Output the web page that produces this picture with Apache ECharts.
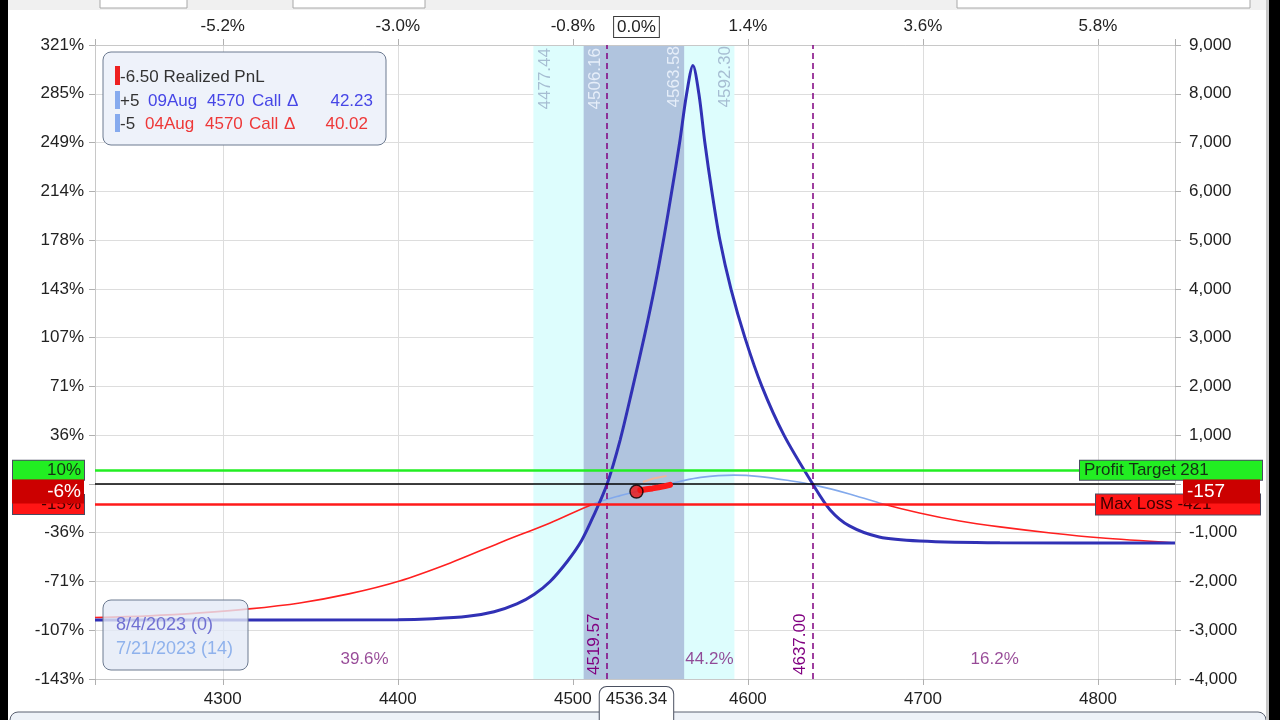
<!DOCTYPE html>
<html><head><meta charset="utf-8">
<script src="https://cdn.jsdelivr.net/npm/echarts@6/dist/echarts.min.js"></script>
<style>html,body{margin:0;padding:0;background:#fff;}#c{width:1280px;height:720px;}</style>
</head><body><div id="c"></div>
<script>
// ---------- data ----------
const xMin = 4227, xMax = 4844;
const yMin = -4000, yMax = 9000, yStep = 1000;
const xTickValues = [4300, 4400, 4500, 4600, 4700, 4800];
const topTickLabels = ['-5.2%', '-3.0%', '-0.8%', '1.4%', '3.6%', '5.8%'];
const yTickValues = [-4000, -3000, -2000, -1000, 0, 1000, 2000, 3000, 4000, 5000, 6000, 7000, 8000, 9000];
const pctTickLabels = ['-143%', '-107%', '-71%', '-36%', '0%', '36%', '71%', '107%', '143%', '178%', '214%', '249%', '285%', '321%'];

const currentPrice = 4536.34;
const currentPnL = -157;
const currentPctLabel = '-6%';
const currentPriceLabel = '4536.34';
const currentPctTop = '0.0%';
const profitTarget = 281;
const profitPct = '10%';
const maxLoss = -421;
const maxLossPct = '-15%';

const outerBand = [4477.44, 4592.30];
const innerBand = [4506.16, 4563.58];
const breakevens = [4519.57, 4637.00];
const probLabels = ['39.6%', '44.2%', '16.2%'];
const probX = [4381, 4578, 4741];
const probY = -3590;

// expiration (8/4/2023) P&L
const expPrice = [4227, 4400, 4420, 4440, 4455, 4468, 4478, 4487, 4497, 4505, 4512, 4519.57, 4527, 4534, 4541, 4547, 4552, 4556.5, 4561, 4565, 4568.6, 4572, 4575.4, 4579.4, 4584, 4590.3, 4598.3, 4608, 4620.6, 4637, 4647, 4658, 4675, 4698, 4744, 4844];
const expPnL   = [-2790, -2785, -2765, -2715, -2620, -2460, -2260, -2000, -1580, -1160, -640, 0, 900, 1950, 3050, 4080, 5050, 6000, 7000, 8000, 8580, 8000, 7000, 6000, 5000, 4000, 3000, 2000, 1000, 0, -533, -861, -1087, -1169, -1205, -1212];

// T+0 (7/21/2023) P&L
const t0Price = [4227, 4258, 4287, 4315, 4344, 4372, 4401, 4430, 4458, 4487, 4511, 4527, 4536.34, 4550, 4561, 4573, 4592, 4607, 4624, 4637, 4658, 4675, 4698, 4721, 4744, 4773, 4801, 4844];
const t0PnL   = [-2740, -2705, -2645, -2563, -2440, -2255, -1990, -1620, -1210, -800, -420, -240, -157, -45, 50, 135, 180, 150, 65, -15, -205, -390, -595, -760, -880, -1005, -1105, -1210];

// realized trail
const trailPrice = [4538.5, 4542, 4545.5, 4549, 4552.5, 4555.5];
const trailPnL   = [-128, -110, -92, -70, -45, -18];
const ghostPrice = [4540, 4546, 4553.5];
const ghostPnL   = [40, 110, 165];

const FONT = 'Arial, "Liberation Sans", sans-serif';
const zip = (a, b) => a.map((v, i) => [v, b[i]]);
const HIDDEN = { color: 'rgba(0,0,0,0)', width: 0 };

const chart = echarts.init(document.getElementById('c'));

const axisLineStyle = { color: '#c8c8c8', width: 1 };
const tickStyle = { show: true, length: 6, lineStyle: { color: '#b0b0b0' } };

const option = {
  animation: false,
  backgroundColor: '#ffffff',
  textStyle: { fontFamily: FONT },
  grid: { left: 95, right: 105, top: 45, bottom: 41 },
  xAxis: [
    {
      type: 'value', position: 'bottom', min: xMin, max: xMax, minInterval: 100, maxInterval: 100, z: 1,
      axisLine: { show: true, onZero: false, lineStyle: axisLineStyle },
      axisTick: tickStyle,
      splitLine: { show: true, lineStyle: { color: '#dddddd', width: 1 } },
      axisLabel: { fontSize: 17, color: '#222', margin: 12, fontFamily: FONT,
        formatter: v => { const i = xTickValues.indexOf(v); return i >= 0 ? String(v) : ''; } }
    },
    {
      type: 'value', position: 'top', min: xMin, max: xMax, minInterval: 100, maxInterval: 100, z: 1,
      axisLine: { show: true, onZero: false, lineStyle: axisLineStyle },
      axisTick: tickStyle,
      splitLine: { show: false },
      axisLabel: { fontSize: 17, color: '#222', margin: 10, fontFamily: FONT,
        formatter: v => { const i = xTickValues.indexOf(v); return i >= 0 ? topTickLabels[i] : ''; } }
    }
  ],
  yAxis: [
    {
      type: 'value', position: 'left', min: yMin, max: yMax, interval: yStep, z: 1,
      axisLine: { show: true, onZero: false, lineStyle: axisLineStyle },
      axisTick: tickStyle,
      splitLine: { show: true, lineStyle: { color: '#dddddd', width: 1 } },
      axisLabel: { fontSize: 17, color: '#222', margin: 11, fontFamily: FONT,
        formatter: v => { const i = yTickValues.indexOf(v); return i >= 0 ? pctTickLabels[i] : ''; } }
    },
    {
      type: 'value', position: 'right', min: yMin, max: yMax, interval: yStep, z: 1,
      axisLine: { show: true, onZero: false, lineStyle: axisLineStyle },
      axisTick: tickStyle,
      splitLine: { show: false },
      axisLabel: { fontSize: 17, color: '#222', margin: 14, fontFamily: FONT,
        formatter: v => v.toLocaleString('en-US') }
    }
  ],
  visualMap: [{
    type: 'piecewise', show: false, dimension: 1, seriesIndex: 2,
    pieces: [
      { gte: yMin - 2000, lt: maxLoss, color: '#ff2020' },
      { gte: maxLoss, lte: yMax + 2000, color: '#82a9ec' }
    ],
    outOfRange: { color: '#82a9ec' }
  }],
  series: [
    // 0: bands
    {
      type: 'line', z: 0, silent: true, data: [[xMin, yMin]], symbol: 'none', lineStyle: { width: 0 },
      markArea: {
        silent: true,
        data: [
          [{ xAxis: outerBand[0], itemStyle: { color: '#ddfdfd' } }, { xAxis: outerBand[1] }],
          [{ xAxis: innerBand[0], itemStyle: { color: '#b0c4de' } }, { xAxis: innerBand[1] }]
        ]
      }
    },
    // 1: vertical marklines (breakevens + band labels + current price boxes)
    {
      type: 'line', z: 2, silent: true, data: [[xMin, yMin]], symbol: 'none', lineStyle: { width: 0 },
      markLine: {
        silent: true, symbol: ['none', 'none'], animation: false,
        data: [
          { xAxis: breakevens[0], lineStyle: { color: '#800080', type: [6, 4], width: 1.5 },
            label: { show: true, position: 'insideStartTop', formatter: breakevens[0].toFixed(2), color: '#800080', fontSize: 17, fontFamily: FONT, distance: 4 } },
          { xAxis: breakevens[1], lineStyle: { color: '#800080', type: [6, 4], width: 1.5 },
            label: { show: true, position: 'insideStartTop', formatter: breakevens[1].toFixed(2), color: '#800080', fontSize: 17, fontFamily: FONT, distance: 4 } },
          { xAxis: outerBand[0], lineStyle: HIDDEN,
            label: { show: true, opacity: 1, position: 'insideEndBottom', formatter: outerBand[0].toFixed(2), color: '#a6bdd2', fontSize: 17, fontFamily: FONT, distance: 3 } },
          { xAxis: innerBand[0], lineStyle: HIDDEN,
            label: { show: true, opacity: 1, position: 'insideEndBottom', formatter: innerBand[0].toFixed(2), color: '#e6eef9', fontSize: 17, fontFamily: FONT, distance: 3 } },
          { xAxis: innerBand[1], lineStyle: HIDDEN,
            label: { show: true, opacity: 1, position: 'insideEndTop', formatter: innerBand[1].toFixed(2), color: '#e6eef9', fontSize: 17, fontFamily: FONT, distance: 1 } },
          { xAxis: outerBand[1], lineStyle: HIDDEN,
            label: { show: true, opacity: 1, position: 'insideEndTop', formatter: outerBand[1].toFixed(2), color: '#a6bdd2', fontSize: 17, fontFamily: FONT, distance: 1 } },
          { xAxis: currentPrice, lineStyle: HIDDEN,
            label: { show: true, opacity: 1, position: 'end', formatter: currentPctTop, distance: 8, color: '#222', fontSize: 17, fontFamily: FONT,
              backgroundColor: '#ffffff', borderColor: '#3c3c3c', borderWidth: 1, padding: [2, 3, 1, 3] } },
          { xAxis: currentPrice, lineStyle: HIDDEN,
            label: { show: true, opacity: 1, position: 'start', formatter: currentPriceLabel, distance: 8, color: '#222', fontSize: 17, fontFamily: FONT,
              backgroundColor: '#ffffff', borderColor: '#4a5060', borderWidth: 1, borderRadius: [7, 7, 0, 0], padding: [4, 6, 20, 6] } }
        ]
      }
    },
    // 2: T+0 curve
    {
      name: '7/21/2023 (14)', type: 'line', z: 3, silent: true, symbol: 'none', smooth: 0.3,
      data: zip(t0Price, t0PnL), lineStyle: { width: 1.6 }
    },
    // 3: expiration curve
    {
      name: '8/4/2023 (0)', type: 'line', z: 4, silent: true, symbol: 'none', smooth: 0.3,
      data: zip(expPrice, expPnL), lineStyle: { width: 3, color: '#3131b5' }, itemStyle: { color: '#3131b5' }
    },
    // 4: horizontal marklines
    {
      type: 'line', z: 5, silent: true, data: [[xMin, yMin]], symbol: 'none', lineStyle: { width: 0 },
      markLine: {
        silent: true, symbol: ['none', 'none'], animation: false,
        data: [
          { yAxis: 0, lineStyle: { color: '#000000', width: 1.5, type: 'solid' }, label: { show: false } },
          { yAxis: profitTarget, lineStyle: { color: '#22ee22', width: 2.5, type: 'solid' },
            label: { show: true, position: 'start', formatter: profitPct, distance: 5, offset: [-6, 0], align: 'right',
              backgroundColor: '#22ee22', borderColor: '#4a4a60', borderWidth: 1, color: '#143214', fontSize: 17, fontFamily: FONT,
              width: 64, padding: [1, 3, 0, 4], lineHeight: 18 } },
          { yAxis: maxLoss, lineStyle: { color: '#ff1a1a', width: 2.5, type: 'solid' },
            label: { show: true, position: 'start', formatter: maxLossPct, distance: 5, offset: [-6, 0], align: 'right',
              backgroundColor: '#ff1515', borderColor: '#4a4a60', borderWidth: 1, color: '#3a0000', fontSize: 17, fontFamily: FONT,
              width: 64, padding: [1, 3, 0, 4], lineHeight: 18 } },
          { yAxis: profitTarget, lineStyle: HIDDEN,
            label: { show: true, opacity: 1, position: 'end', formatter: 'Profit Target ' + profitTarget, distance: 5, offset: [-100, 0], align: 'left',
              backgroundColor: '#22ee22', borderColor: '#4a4a60', borderWidth: 1, color: '#143214', fontSize: 17, fontFamily: FONT,
              width: 174, padding: [1, 4, 0, 4], lineHeight: 18 } },
          { yAxis: maxLoss, lineStyle: HIDDEN,
            label: { show: true, opacity: 1, position: 'end', formatter: 'Max Loss ' + maxLoss, distance: 5, offset: [-84, 0], align: 'left',
              backgroundColor: '#ff1515', borderColor: '#4a4a60', borderWidth: 1, color: '#3a0000', fontSize: 17, fontFamily: FONT,
              width: 156, padding: [1, 4, 0, 4], lineHeight: 19 } },
          { yAxis: currentPnL, lineStyle: HIDDEN,
            label: { show: true, opacity: 1, position: 'start', formatter: currentPctLabel, distance: 5, offset: [-6, 0], align: 'right',
              backgroundColor: '#cc0000', color: '#ffffff', fontSize: 19, fontFamily: FONT,
              width: 66, padding: [2, 3, 1, 3], lineHeight: 21 } },
          { yAxis: currentPnL, lineStyle: HIDDEN,
            label: { show: true, opacity: 1, position: 'end', formatter: String(currentPnL), distance: 5, offset: [3, 0], align: 'left',
              backgroundColor: '#cc0000', color: '#ffffff', fontSize: 19, fontFamily: FONT,
              width: 69, padding: [2, 4, 1, 4], lineHeight: 21 } }
        ]
      }
    },
    // 5: ghost trail
    {
      type: 'line', z: 6, silent: true, symbol: 'none', data: zip(ghostPrice, ghostPnL),
      lineStyle: { width: 2, color: '#ffb48a', opacity: 0.8 }
    },
    // 6: realized trail
    {
      type: 'line', z: 7, silent: true, symbol: 'none', data: zip(trailPrice, trailPnL),
      lineStyle: { width: 6, color: '#ff1a1a', cap: 'round' }
    },
    // 7: current position dot
    {
      type: 'scatter', z: 8, silent: true, symbolSize: 13, data: [[currentPrice, currentPnL]],
      itemStyle: { color: '#ee1111', borderColor: '#000000', borderWidth: 1.5 }
    },
    // 8: probability labels
    {
      type: 'scatter', z: 8, silent: true, symbolSize: 0,
      data: probX.map((x, i) => [x, probY, probLabels[i]]),
      label: { show: true, position: 'inside', formatter: p => p.data[2], color: '#7d1d7d', fontSize: 17, fontFamily: FONT }
    }
  ],
  graphic: [
    { type: 'rect', z: 20, shape: { x: 0, y: 0, width: 1280, height: 10 }, style: { fill: '#f0f0f0' } },
    { type: 'rect', z: 21, shape: { x: 100, y: -2, width: 87, height: 10 }, style: { fill: '#ffffff', stroke: '#a8a8a8' } },
    { type: 'rect', z: 21, shape: { x: 293, y: -2, width: 132, height: 10 }, style: { fill: '#ffffff', stroke: '#a8a8a8' } },
    { type: 'rect', z: 21, shape: { x: 957, y: -2, width: 293, height: 10 }, style: { fill: '#ffffff', stroke: '#a8a8a8' } },
    { type: 'rect', z: 20, shape: { x: 0, y: 0, width: 8, height: 720 }, style: { fill: '#000000' } },
    { type: 'rect', z: 20, shape: { x: 1266, y: 0, width: 3, height: 720 }, style: { fill: '#c8c8c8' } },
    { type: 'rect', z: 20, shape: { x: 1269, y: 0, width: 11, height: 720 }, style: { fill: '#000000' } },
    { type: 'rect', z: 1, shape: { x: 10, y: 712, width: 1256, height: 20, r: [8, 8, 0, 0] }, style: { fill: '#eef2f8', stroke: '#5a6070', lineWidth: 1 } },
    { type: 'rect', z: 15, shape: { x: 103, y: 52, width: 283, height: 93, r: 8 }, style: { fill: '#eef2fa', stroke: '#6c7a90', lineWidth: 1 } },
    { type: 'rect', z: 16, shape: { x: 115, y: 66, width: 5, height: 19 }, style: { fill: '#ee2020' } },
    { type: 'rect', z: 16, shape: { x: 115, y: 91, width: 5, height: 18 }, style: { fill: '#86aaee' } },
    { type: 'rect', z: 16, shape: { x: 115, y: 114, width: 5, height: 18 }, style: { fill: '#86aaee' } },
    { type: 'text', z: 16, style: { x: 120, y: 77, text: '-6.50 Realized PnL', fill: '#333', font: '17px ' + FONT, verticalAlign: 'middle' } },
    { type: 'text', z: 16, style: { x: 120, y: 101, text: '+5', fill: '#333', font: '17px ' + FONT, verticalAlign: 'middle' } },
    { type: 'text', z: 16, style: { x: 148, y: 101, text: '09Aug', fill: '#4646e6', font: '17px ' + FONT, verticalAlign: 'middle' } },
    { type: 'text', z: 16, style: { x: 207, y: 101, text: '4570', fill: '#4646e6', font: '17px ' + FONT, verticalAlign: 'middle' } },
    { type: 'text', z: 16, style: { x: 252, y: 101, text: 'Call', fill: '#4646e6', font: '17px ' + FONT, verticalAlign: 'middle' } },
    { type: 'text', z: 16, style: { x: 287, y: 101, text: 'Δ', fill: '#4646e6', font: '17px ' + FONT, verticalAlign: 'middle' } },
    { type: 'text', z: 16, style: { x: 373, y: 101, text: '42.23', fill: '#4646e6', font: '17px ' + FONT, verticalAlign: 'middle', align: 'right' } },
    { type: 'text', z: 16, style: { x: 120, y: 124, text: '-5', fill: '#333', font: '17px ' + FONT, verticalAlign: 'middle' } },
    { type: 'text', z: 16, style: { x: 145, y: 124, text: '04Aug', fill: '#ee3838', font: '17px ' + FONT, verticalAlign: 'middle' } },
    { type: 'text', z: 16, style: { x: 205, y: 124, text: '4570', fill: '#ee3838', font: '17px ' + FONT, verticalAlign: 'middle' } },
    { type: 'text', z: 16, style: { x: 249, y: 124, text: 'Call', fill: '#ee3838', font: '17px ' + FONT, verticalAlign: 'middle' } },
    { type: 'text', z: 16, style: { x: 284, y: 124, text: 'Δ', fill: '#ee3838', font: '17px ' + FONT, verticalAlign: 'middle' } },
    { type: 'text', z: 16, style: { x: 368, y: 124, text: '40.02', fill: '#ee3838', font: '17px ' + FONT, verticalAlign: 'middle', align: 'right' } },
    { type: 'rect', z: 15, shape: { x: 103, y: 600, width: 145, height: 70, r: 8 }, style: { fill: 'rgba(228,234,246,0.8)', stroke: '#6c7a90', lineWidth: 1 } },
    { type: 'text', z: 16, style: { x: 116, y: 625, text: '8/4/2023 (0)', fill: '#7070d2', font: '18px ' + FONT, verticalAlign: 'middle' } },
    { type: 'text', z: 16, style: { x: 116, y: 649, text: '7/21/2023 (14)', fill: '#8fb2ec', font: '18px ' + FONT, verticalAlign: 'middle' } }
  ]
};
chart.setOption(option);
</script></body></html>
